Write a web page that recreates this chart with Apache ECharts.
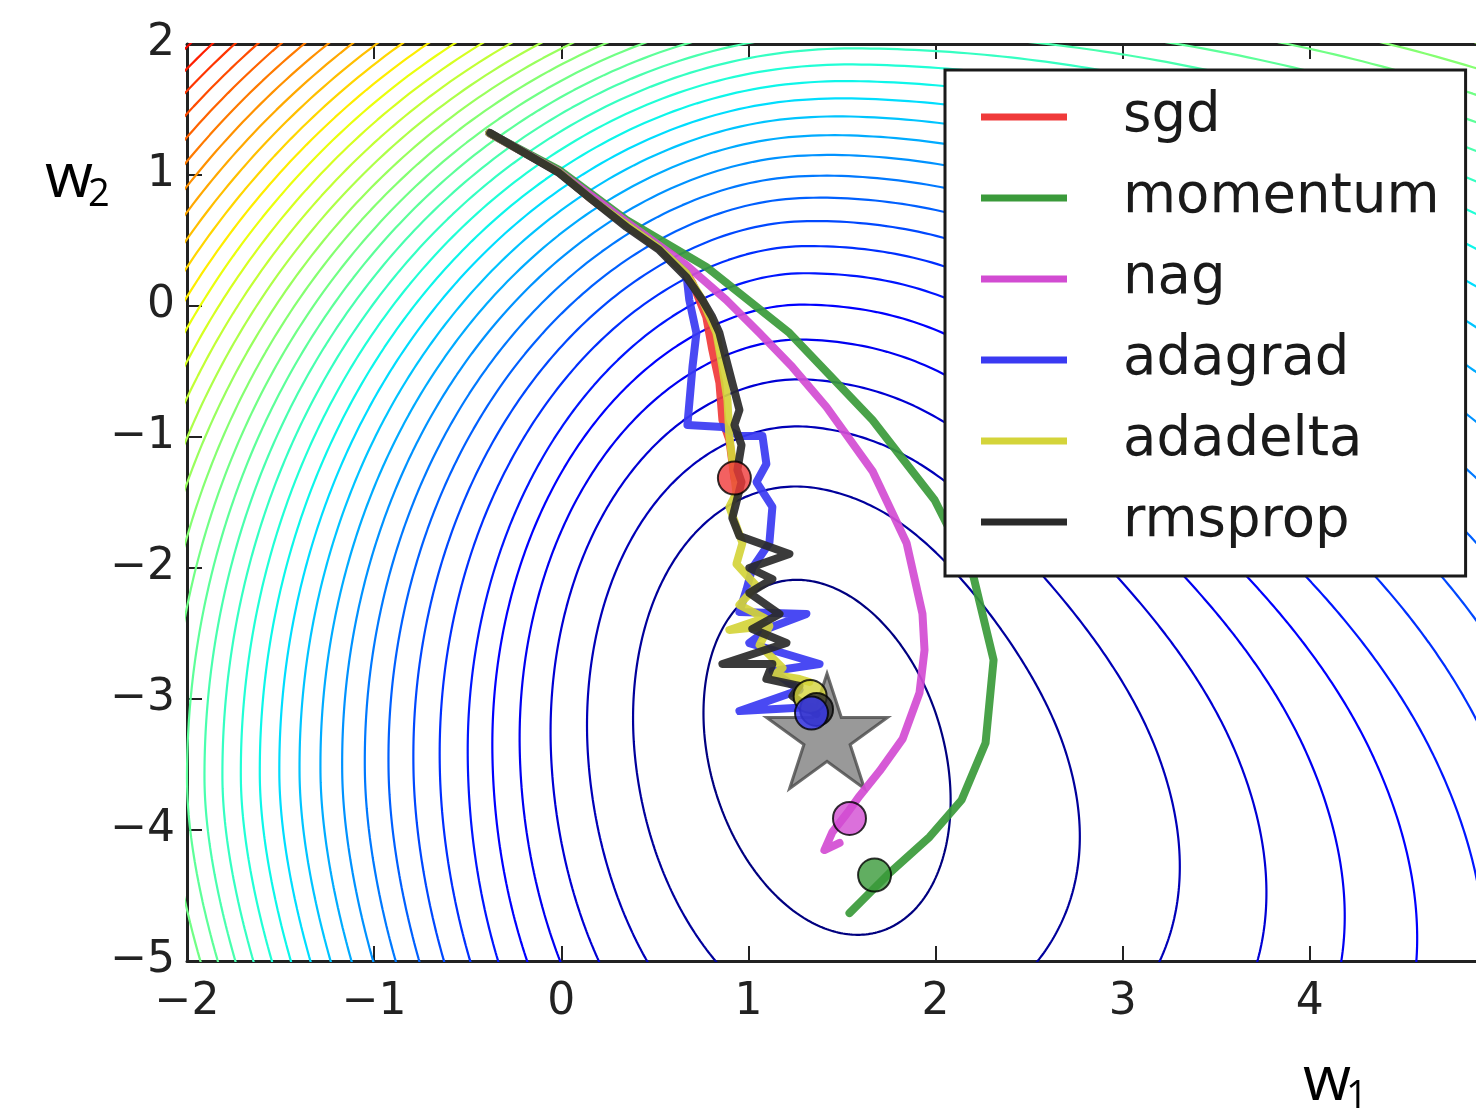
<!DOCTYPE html>
<html>
<head>
<meta charset="utf-8">
<script src="https://cdn.jsdelivr.net/npm/echarts@6/dist/echarts.min.js"></script>
<style>
  html, body { margin: 0; padding: 0; background: #fff; }
  #chart { width: 1476px; height: 1111px; }
</style>
</head>
<body>
<div id="chart"></div>
<script>
// loss surface: the minimum and three contours (levels 1, 7 and 20),
// each ring as [cx, cy, aLeft, aRight, bUp, bDown, exponentUpperLeft, shear, lowerShear, lowerSoftness, rightShear]
const MIN_POINT = [1.42, -3.40];
const INNER_RING = [1.42, -3.44, 0.64, 0.64, 1.35, 1.36, 2.0, 0.12, 0.0, 1.0, 0.0];
const MID_RING = [1.42, -3.40, 1.92, 3.23, 3.65, 4.00, 2.0, 0.0, 0.0, 1.0, 0.35];
const OUTER_RING = [1.60, -3.60, 3.60, 6.50, 5.80, 8.50, 2.0, 0.0, 0.20, 2.0, 0.0];
const RING_LEVELS = [0.5, 6.5, 19.5];
const LEVEL_COUNT = 60;
const COLOR_SPAN = 42;

const NAMES = ['sgd', 'momentum', 'nag', 'adagrad', 'adadelta', 'rmsprop'];
const COLORS = ['#f03a3a', '#3a9a3a', '#d24cd2', '#3a3af2', '#d4d43a', '#2a2a2a'];

const SGD = [[-0.385,1.321],[-0.011,1.02],[0.166,0.81],[0.348,0.62],[0.524,0.44],[0.668,0.25],[0.701,0.176],[0.775,-0.084],[0.807,-0.336],[0.845,-0.588],[0.861,-0.870],[0.898,-1.023],[0.925,-1.313]];
const MOMENTUM = [[-0.385,1.321],[-0.011,1.038],[0.348,0.656],[0.775,0.298],[1.219,-0.206],[1.663,-0.870],[1.995,-1.481],[2.203,-2.069],[2.310,-2.702],[2.267,-3.336],[2.139,-3.771],[1.968,-4.053],[1.754,-4.328],[1.540,-4.634]];
const NAG = [[-0.385,1.321],[-0.011,1.023],[0.348,0.641],[0.668,0.313],[0.882,0.046],[1.059,-0.206],[1.235,-0.466],[1.417,-0.771],[1.663,-1.260],[1.845,-1.809],[1.930,-2.351],[1.941,-2.626],[1.914,-2.954],[1.824,-3.305],[1.701,-3.550],[1.594,-3.740],[1.524,-3.878],[1.449,-4.015],[1.406,-4.153],[1.487,-4.099]];
const ADAGRAD = [[-0.385,1.321],[-0.011,1.02],[0.166,0.81],[0.348,0.62],[0.524,0.44],[0.668,0.25],[0.684,0.046],[0.722,-0.206],[0.701,-0.466],[0.674,-0.908],[0.861,-0.924],[0.952,-0.992],[1.075,-0.992],[1.096,-1.206],[1.043,-1.344],[1.128,-1.534],[1.112,-1.809],[1.021,-2.0],[0.989,-2.168],[0.952,-2.336],[1.310,-2.351],[1.112,-2.458],[1.005,-2.573],[1.380,-2.733],[1.128,-2.786],[1.273,-2.931],[0.952,-3.092],[1.342,-3.061]];
const ADADELTA = [[-0.385,1.321],[-0.011,1.02],[0.166,0.81],[0.348,0.62],[0.524,0.44],[0.668,0.25],[0.754,0.046],[0.829,-0.206],[0.861,-0.466],[0.888,-0.718],[0.898,-0.992],[0.936,-1.427],[0.898,-1.534],[0.968,-1.809],[0.936,-1.969],[1.043,-2.137],[0.952,-2.282],[1.086,-2.382],[0.898,-2.473],[1.112,-2.443],[1.059,-2.588],[1.182,-2.763],[1.139,-2.817],[1.273,-2.847],[1.326,-2.870]];
const RMSPROP = [[-0.380,1.321],[-0.011,1.015],[0.166,0.809],[0.348,0.603],[0.524,0.427],[0.668,0.221],[0.754,0.046],[0.807,-0.084],[0.845,-0.206],[0.882,-0.412],[0.914,-0.588],[0.952,-0.794],[0.925,-0.908],[0.963,-1.061],[0.941,-1.252],[0.963,-1.344],[0.914,-1.618],[0.952,-1.756],[1.219,-1.893],[1.005,-2.0],[1.128,-2.084],[1.005,-2.191],[1.166,-2.351],[1.021,-2.466],[1.203,-2.573],[0.861,-2.733],[1.128,-2.733],[1.096,-2.847],[1.273,-2.901],[1.235,-2.977],[1.364,-3.115]];
const PATHS = [SGD, MOMENTUM, NAG, ADAGRAD, ADADELTA, RMSPROP];

// current position of each optimizer, and the star at the minimum
const ENDS = [[0.925,-1.313],[1.674,-4.344],[1.540,-3.912],[1.337,-3.107],[1.33,-2.98],[1.364,-3.08]];
const STAR = [1.42, -3.245];

function ringValue(R, x, y) {
  const dx = x - R[0];
  const Y = y - R[1];
  const low = Y < 0 ? (Y * Y) / (R[9] - Y) : 0;
  const right = 1 / (1 + Math.exp(-(dx - 1) / 0.5));
  const X = dx + R[7] * Y - R[8] * low + R[10] * Y * right;
  const a = X < 0 ? R[2] : R[3];
  const b = Y > 0 ? R[4] : R[5];
  const e = (X < 0 && Y > 0) ? R[6] : 2;
  return Math.pow(Math.abs(X) / a, e) + Math.pow(Math.abs(Y) / b, e);
}

function rayRadius(R, c, s) {
  let lo = 0, hi = 40;
  for (let i = 0; i < 50; i++) {
    const mid = (lo + hi) / 2;
    if (ringValue(R, MIN_POINT[0] + mid * c, MIN_POINT[1] + mid * s) < 1) lo = mid; else hi = mid;
  }
  return (lo + hi) / 2;
}

const RINGS = [INNER_RING, MID_RING, OUTER_RING];
const STEPS = 720;
const rays = [];
for (let j = 0; j <= STEPS; j++) {
  const a = j / STEPS * 2 * Math.PI, c = Math.cos(a), s = Math.sin(a);
  rays.push({ c: c, s: s, r: RINGS.map(function (R) { return rayRadius(R, c, s); }) });
}

// power-law growth between neighbouring rings, straight-line growth beyond the last one
function contour(level) {
  const n = RING_LEVELS.length;
  let i = 0;
  while (i < n - 2 && level > RING_LEVELS[i + 1]) i++;
  const v0 = RING_LEVELS[i], v1 = RING_LEVELS[i + 1];
  const span = Math.log(v1 / v0);
  return rays.map(function (ray) {
    const r0 = ray.r[i], r1 = ray.r[i + 1];
    let rad;
    if (level <= v1) {
      const t = Math.log(level / v0) / span;
      rad = Math.pow(r0, 1 - t) * Math.pow(r1, t);
    } else {
      const p = span / Math.log(r1 / r0);
      rad = r1 * (1 + (level - v1) / (p * v1));
    }
    return [MIN_POINT[0] + rad * ray.c, MIN_POINT[1] + rad * ray.s];
  });
}

function lerp(t, stops) {
  for (let i = 1; i < stops.length; i++) {
    if (t <= stops[i][0]) {
      const a = stops[i - 1], b = stops[i];
      return a[1] + (b[1] - a[1]) * (t - a[0]) / (b[0] - a[0]);
    }
  }
  return stops[stops.length - 1][1];
}
function jet(t) {
  t = Math.min(1, Math.max(0, t));
  const r = lerp(t, [[0,0],[0.35,0],[0.66,1],[0.89,1],[1,0.5]]);
  const g = lerp(t, [[0,0],[0.125,0],[0.375,1],[0.64,1],[0.91,0],[1,0]]);
  const b = lerp(t, [[0,0.5],[0.11,1],[0.34,1],[0.65,0],[1,0]]);
  return 'rgb(' + Math.round(r * 255) + ',' + Math.round(g * 255) + ',' + Math.round(b * 255) + ')';
}

const series = [];
for (let k = 0; k < LEVEL_COUNT; k++) {
  series.push({
    type: 'line', name: 'level' + k, data: contour(k + 0.5), showSymbol: false, symbol: 'none',
    silent: true, z: 1, lineStyle: { color: jet(k / (COLOR_SPAN - 1)), width: 2.2 }
  });
}

series.push({
  type: 'scatter', name: 'minimum', data: [STAR], z: 2, silent: true,
  symbol: 'path://M0,-100L22.45,-30.9L95.1,-30.9L36.33,11.8L58.8,80.9L0,38.2L-58.8,80.9L-36.33,11.8L-95.1,-30.9L-22.45,-30.9Z',
  symbolSize: [121, 115],
  itemStyle: { color: '#808080', borderColor: '#4a4a4a', borderWidth: 3 }
});

NAMES.forEach(function (name, i) {
  series.push({
    type: 'line', name: name, data: PATHS[i], showSymbol: false, symbol: 'none', z: 3,
    itemStyle: { color: COLORS[i] },
    lineStyle: { color: COLORS[i], width: 8, opacity: 0.92, join: 'round', cap: 'round' }
  });
});

[4, 5, 0, 1, 2, 3].forEach(function (i) {
  series.push({
    type: 'scatter', name: NAMES[i] + ' now', data: [ENDS[i]], z: 4, silent: true,
    symbolSize: 33,
    itemStyle: { color: COLORS[i], borderColor: '#000', borderWidth: 2 }
  });
});

const minus = function (v) { return v === 5 ? '' : String(v).replace('-', '\u2212'); };
const tickStyle = { show: true, inside: true, length: 15, lineStyle: { color: '#222', width: 2 } };
const axisLineStyle = { show: true, onZero: false, lineStyle: { color: '#222', width: 3 } };

const chart = echarts.init(document.getElementById('chart'));
chart.setOption({
  animation: false,
  backgroundColor: '#fff',
  grid: { left: 187, top: 44, right: -21, bottom: 150, containLabel: false, outerBoundsMode: 'none' },
  xAxis: [
    { type: 'value', min: -2, max: 5, interval: 1, position: 'bottom',
      axisLine: axisLineStyle, axisTick: tickStyle, splitLine: { show: false },
      axisLabel: { formatter: minus, fontSize: 44, color: '#222', fontFamily: 'DejaVu Sans', margin: 20, showMinLabel: true, showMaxLabel: true } },
    { type: 'value', min: -2, max: 5, interval: 1, position: 'top',
      axisLine: axisLineStyle, axisTick: tickStyle, splitLine: { show: false }, axisLabel: { show: false } }
  ],
  yAxis: [
    { type: 'value', min: -5, max: 2, interval: 1, position: 'left',
      axisLine: axisLineStyle, axisTick: tickStyle, splitLine: { show: false },
      axisLabel: { formatter: minus, fontSize: 44, color: '#222', fontFamily: 'DejaVu Sans', margin: 12, showMinLabel: true, showMaxLabel: true } }
  ],
  legend: {
    data: NAMES, orient: 'vertical', left: 945, top: 70, z: 10,
    icon: 'rect', itemWidth: 86, itemHeight: 7, itemGap: 21,
    padding: [17, 26, 24, 36], selectedMode: false,
    backgroundColor: '#fff', borderColor: '#1a1a1a', borderWidth: 3,
    textStyle: { fontSize: 54.5, fontFamily: 'DejaVu Sans', color: '#1a1a1a', lineHeight: 60, padding: [0, 0, 0, 51] }
  },
  graphic: [
    { type: 'text', left: 45, top: 148, style: { text: 'w', fontSize: 62, fontFamily: 'Open Sans', fill: '#000' } },
    { type: 'text', left: 88, top: 176, style: { text: '2', fontSize: 38, fontFamily: 'Open Sans', fill: '#000' } },
    { type: 'text', left: 1303, top: 1051, style: { text: 'w', fontSize: 62, fontFamily: 'Open Sans', fill: '#000' } },
    { type: 'text', left: 1346, top: 1078, style: { text: '1', fontSize: 38, fontFamily: 'Open Sans', fill: '#000' } }
  ],
  series: series
});
</script>
</body>
</html>
